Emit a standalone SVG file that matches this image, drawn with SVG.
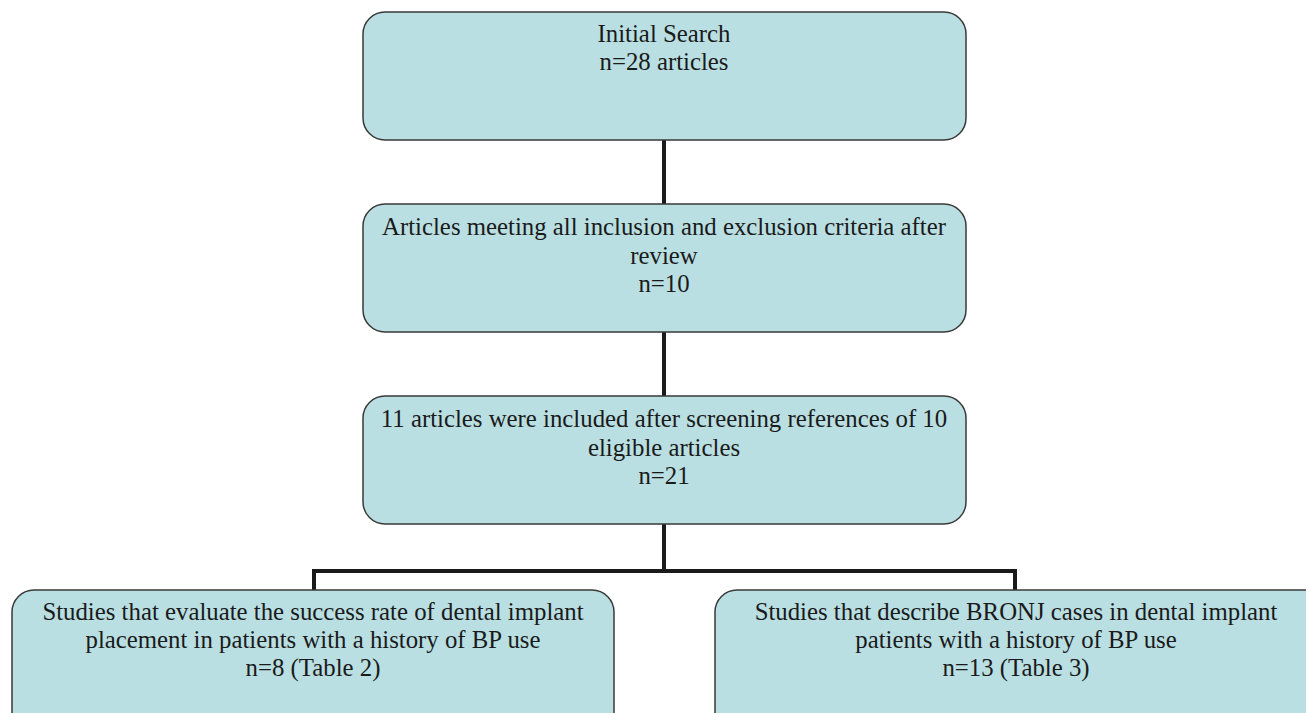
<svg xmlns="http://www.w3.org/2000/svg" width="1306" height="713" viewBox="0 0 1306 713">
<style>
.box{fill:#b9dfe2;stroke:#3a3a3a;stroke-width:1.5}
.t{font-family:"Liberation Serif","Times New Roman",serif;font-size:24.8px;fill:#1a1a1a;text-anchor:middle}
.c{fill:none;stroke:#1a1a1a;stroke-width:4}
</style>
<rect width="1306" height="713" fill="#ffffff"/>
<g id="connectors">
<line class="c" x1="664" y1="140" x2="664" y2="204"/>
<line class="c" x1="664" y1="332" x2="664" y2="396"/>
<line class="c" x1="664" y1="524" x2="664" y2="571"/>
<polyline class="c" points="314,590 314,571 1015,571 1015,590"/>
</g>
<g id="n1">
<rect class="box" x="363" y="12" width="603" height="128" rx="22"/>
<text class="t" x="664" y="42">Initial Search</text>
<text class="t" x="664" y="70">n=28 articles</text>
</g>
<g id="n2">
<rect class="box" x="363" y="204" width="603" height="128" rx="22"/>
<text class="t" x="664" y="235">Articles meeting all inclusion and exclusion criteria after</text>
<text class="t" x="664" y="263.5">review</text>
<text class="t" x="664" y="292">n=10</text>
</g>
<g id="n3">
<rect class="box" x="363" y="396" width="603" height="128" rx="22"/>
<text class="t" x="664" y="427">11 articles were included after screening references of 10</text>
<text class="t" x="664" y="455.5">eligible articles</text>
<text class="t" x="664" y="484">n=21</text>
</g>
<g id="n4">
<rect class="box" x="12" y="590" width="602" height="150" rx="22"/>
<text class="t" x="313" y="620">Studies that evaluate the success rate of dental implant</text>
<text class="t" x="313" y="648">placement in patients with a history of BP use</text>
<text class="t" x="313" y="676">n=8 (Table 2)</text>
</g>
<g id="n5">
<rect class="box" x="715" y="590" width="620" height="150" rx="22"/>
<text class="t" x="1016" y="620">Studies that describe BRONJ cases in dental implant</text>
<text class="t" x="1016" y="648">patients with a history of BP use</text>
<text class="t" x="1016" y="676">n=13 (Table 3)</text>
</g>
</svg>
